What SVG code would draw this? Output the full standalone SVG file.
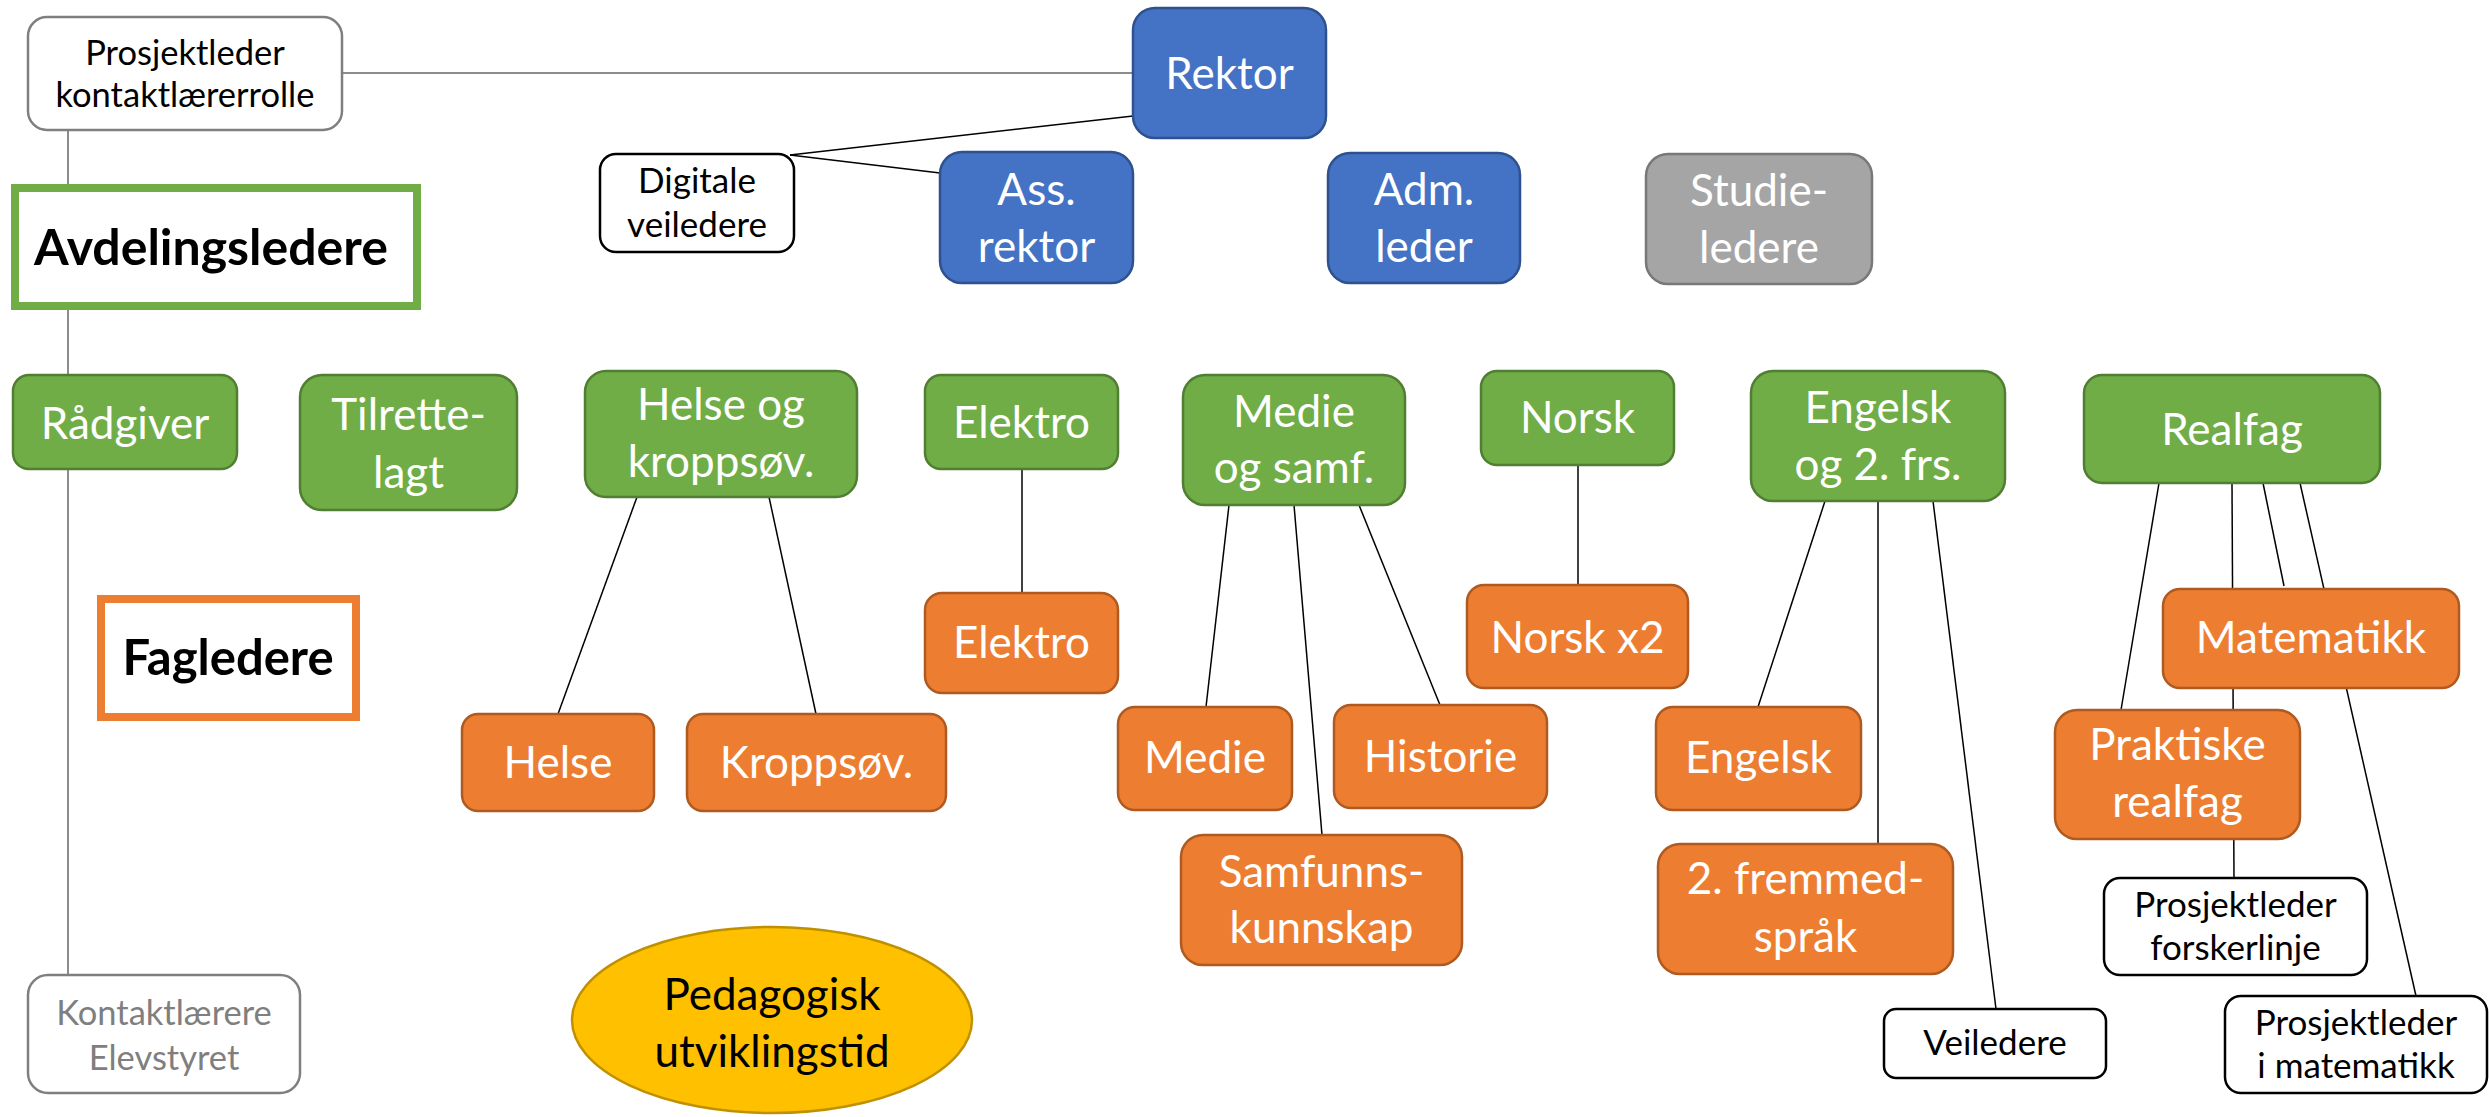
<svg xmlns="http://www.w3.org/2000/svg" width="2489" height="1117" viewBox="0 0 2489 1117">
<style>
text{font-family:Lato,"Open Sans","Liberation Sans",sans-serif;text-anchor:middle}
.g rect{fill:#70AD47;stroke:#507E32;stroke-width:2.5}
.o rect{fill:#ED7D31;stroke:#AE5A21;stroke-width:2.5}
.b rect{fill:#4472C4;stroke:#2F528F;stroke-width:2.5}
.gr rect{fill:#A5A5A5;stroke:#787878;stroke-width:2.5}
.w rect{fill:#FFFFFF;stroke:#000000;stroke-width:2.5}
.g text,.o text,.b text,.gr text{fill:#FFFFFF;font-size:44px}
.w text{fill:#000000;font-size:35px}
.ln line{stroke:#000000;stroke-width:1.5}
.gl line{stroke:#8C8C8C;stroke-width:2}
</style>
<rect width="2489" height="1117" fill="#FFFFFF"/>
<g id="connectors">
<g class="gl">
<line x1="341" y1="73" x2="1133" y2="73"/>
<line x1="68" y1="130" x2="68" y2="975"/>
</g>
<g class="ln">
<line x1="790" y1="155" x2="1133" y2="116"/>
<line x1="790" y1="155" x2="940" y2="173"/>
<line x1="637" y1="497" x2="558" y2="714"/>
<line x1="769" y1="497" x2="816" y2="714"/>
<line x1="1022" y1="469" x2="1022" y2="593"/>
<line x1="1229" y1="505" x2="1206" y2="707"/>
<line x1="1294" y1="505" x2="1322" y2="835"/>
<line x1="1359" y1="505" x2="1440" y2="705"/>
<line x1="1578" y1="465" x2="1578" y2="585"/>
<line x1="1825" y1="501" x2="1758" y2="707"/>
<line x1="1878" y1="501" x2="1878" y2="844"/>
<line x1="1933" y1="501" x2="1996" y2="1009"/>
<line x1="2159" y1="483" x2="2121" y2="710"/>
<line x1="2232" y1="483" x2="2234" y2="878"/>
<line x1="2263" y1="483" x2="2284" y2="586"/>
<line x1="2300" y1="483" x2="2416" y2="996"/>
</g>
</g>
<g id="prosjektleder-kontakt"><rect x="28" y="17" width="314" height="113" rx="19" fill="#FFFFFF" stroke="#7F7F7F" stroke-width="2.5"/><text x="185" y="65" font-size="34.5" fill="#000">Prosjektleder</text><text x="185" y="107" font-size="34.5" fill="#000">kontaktlærerrolle</text></g>
<g id="rektor" class="b"><rect x="1133" y="8" width="193" height="130" rx="22"/><text x="1229.5" y="89">Rektor</text></g>
<g id="digitale-veiledere" class="w"><rect x="600" y="154" width="194" height="98" rx="16"/><text x="697" y="193" font-size="33">Digitale</text><text x="697" y="237" font-size="33">veiledere</text></g>
<g id="ass-rektor" class="b"><rect x="940" y="152" width="193" height="131" rx="22"/><text x="1036.5" y="205">Ass.</text><text x="1036.5" y="262">rektor</text></g>
<g id="adm-leder" class="b"><rect x="1328" y="153" width="192" height="130" rx="22"/><text x="1424" y="205">Adm.</text><text x="1424" y="262">leder</text></g>
<g id="studieledere" class="gr"><rect x="1646" y="154" width="226" height="130" rx="22"/><text x="1759" y="206">Studie-</text><text x="1759" y="263">ledere</text></g>
<g id="avdelingsledere"><rect x="15" y="188" width="402" height="118" fill="#FFFFFF" stroke="#70AD47" stroke-width="8"/><text x="211" y="265" font-size="50" font-weight="bold" fill="#000">Avdelingsledere</text></g>
<g id="fagledere"><rect x="101" y="599" width="255" height="118" fill="#FFFFFF" stroke="#ED7D31" stroke-width="8"/><text x="228" y="675" font-size="49" font-weight="bold" fill="#000">Fagledere</text></g>
<g id="raadgiver" class="g"><rect x="13" y="375" width="224" height="94" rx="16"/><text x="125" y="439">Rådgiver</text></g>
<g id="tilrettelagt" class="g"><rect x="300" y="375" width="217" height="135" rx="22"/><text x="408.5" y="430">Tilrette-</text><text x="408.5" y="488">lagt</text></g>
<g id="helse-kroppsov" class="g"><rect x="585" y="371" width="272" height="126" rx="21"/><text x="721" y="420">Helse og</text><text x="721" y="477">kroppsøv.</text></g>
<g id="elektro-avd" class="g"><rect x="925" y="375" width="193" height="94" rx="16"/><text x="1021.5" y="438">Elektro</text></g>
<g id="medie-samf" class="g"><rect x="1183" y="375" width="222" height="130" rx="22"/><text x="1294" y="427">Medie</text><text x="1294" y="483">og samf.</text></g>
<g id="norsk-avd" class="g"><rect x="1481" y="371" width="193" height="94" rx="16"/><text x="1577.5" y="433">Norsk</text></g>
<g id="engelsk-frs" class="g"><rect x="1751" y="371" width="254" height="130" rx="22"/><text x="1878" y="423">Engelsk</text><text x="1878" y="480">og 2. frs.</text></g>
<g id="realfag" class="g"><rect x="2084" y="375" width="296" height="108" rx="18"/><text x="2232" y="445">Realfag</text></g>
<g id="helse" class="o"><rect x="462" y="714" width="192" height="97" rx="16"/><text x="558" y="778">Helse</text></g>
<g id="kroppsov" class="o"><rect x="687" y="714" width="259" height="97" rx="16"/><text x="816.5" y="778">Kroppsøv.</text></g>
<g id="elektro-fag" class="o"><rect x="925" y="593" width="193" height="100" rx="17"/><text x="1021.5" y="658">Elektro</text></g>
<g id="medie" class="o"><rect x="1118" y="707" width="174" height="103" rx="17"/><text x="1205" y="773">Medie</text></g>
<g id="historie" class="o"><rect x="1334" y="705" width="213" height="103" rx="17"/><text x="1440.5" y="772">Historie</text></g>
<g id="samfunnskunnskap" class="o"><rect x="1181" y="835" width="281" height="130" rx="22"/><text x="1321.5" y="887">Samfunns-</text><text x="1321.5" y="943">kunnskap</text></g>
<g id="norsk-x2" class="o"><rect x="1467" y="585" width="221" height="103" rx="17"/><text x="1577.5" y="653">Norsk x2</text></g>
<g id="engelsk" class="o"><rect x="1656" y="707" width="205" height="103" rx="17"/><text x="1758.5" y="773">Engelsk</text></g>
<g id="fremmedsprak" class="o"><rect x="1658" y="844" width="295" height="130" rx="22"/><text x="1805.5" y="894">2. fremmed-</text><text x="1805.5" y="952">språk</text></g>
<g id="matematikk" class="o"><rect x="2163" y="589" width="296" height="99" rx="17"/><text x="2311" y="653">Matematikk</text></g>
<g id="praktiske-realfag" class="o"><rect x="2055" y="710" width="245" height="129" rx="22"/><text x="2177.5" y="760">Praktiske</text><text x="2177.5" y="817">realfag</text></g>
<g id="prosjektleder-forskerlinje" class="w"><rect x="2104" y="878" width="263" height="97" rx="16"/><text x="2235.5" y="917">Prosjektleder</text><text x="2235.5" y="960">forskerlinje</text></g>
<g id="veiledere" class="w"><rect x="1884" y="1009" width="222" height="69" rx="12"/><text x="1995" y="1055">Veiledere</text></g>
<g id="prosjektleder-matematikk" class="w"><rect x="2225" y="996" width="262" height="97" rx="16"/><text x="2356" y="1035">Prosjektleder</text><text x="2356" y="1078">i matematikk</text></g>
<g id="kontaktlaerere"><rect x="28" y="975" width="272" height="118" rx="20" fill="#FFFFFF" stroke="#7F7F7F" stroke-width="2.5"/><text x="164" y="1025" font-size="34.5" fill="#7F7F7F">Kontaktlærere</text><text x="164" y="1070" font-size="34.5" fill="#7F7F7F">Elevstyret</text></g>
<g id="pedagogisk"><ellipse cx="772" cy="1020" rx="200" ry="93" fill="#FFC000" stroke="#BF9000" stroke-width="2.5"/><text x="772" y="1010" font-size="44" fill="#000">Pedagogisk</text><text x="772" y="1067" font-size="44" fill="#000">utviklingstid</text></g>
</svg>
